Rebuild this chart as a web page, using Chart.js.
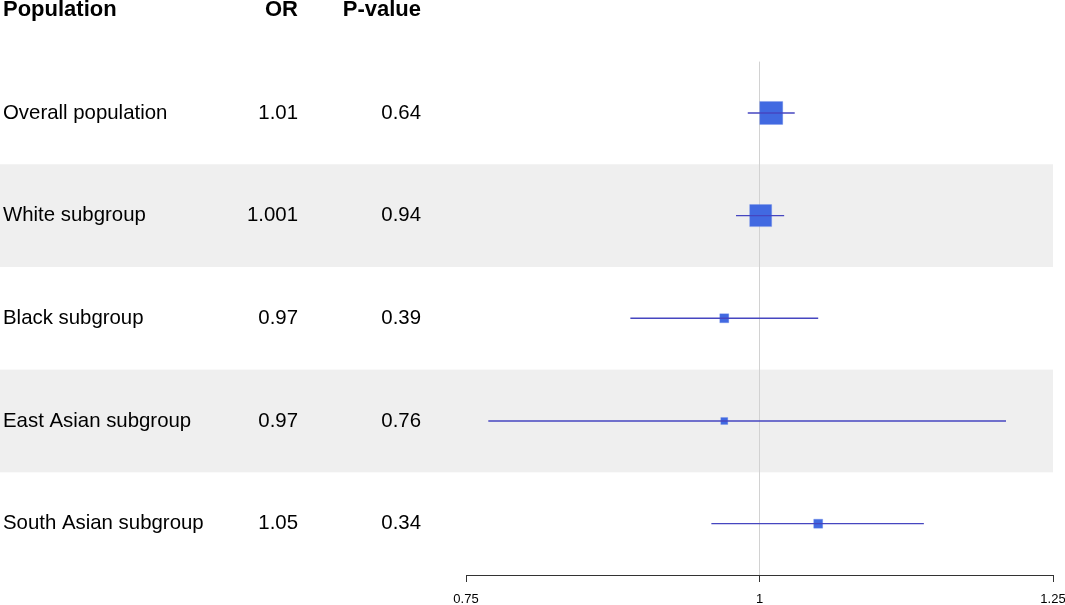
<!DOCTYPE html>
<html>
<head>
<meta charset="utf-8">
<script src="https://cdn.jsdelivr.net/npm/chart.js@4/dist/chart.umd.min.js"></script>
<style>
  html, body { margin: 0; padding: 0; background: #fff; }
  #wrap { width: 1065px; height: 605px; position: relative; }
</style>
</head>
<body>
<div id="wrap"><canvas id="forest"></canvas></div>
<script>
// table columns
const headers = ['Population', 'OR', 'P-value'];
const populations = ['Overall population', 'White subgroup', 'Black subgroup', 'East Asian subgroup', 'South Asian subgroup'];
const orLabels = ['1.01', '1.001', '0.97', '0.97', '1.05'];
const pLabels = ['0.64', '0.94', '0.39', '0.76', '0.34'];

// estimates and confidence intervals
const orValues = [1.01, 1.001, 0.97, 0.97, 1.05];
const ciLower = [0.990, 0.980, 0.890, 0.769, 0.959];
const ciUpper = [1.030, 1.021, 1.050, 1.210, 1.140];
const xTicks = [0.75, 1, 1.25];

// styling
const boxSide = [23, 22, 9, 7, 9];
const FONT = '"Liberation Sans", Arial, Helvetica, sans-serif';
const colX = { pop: 3, or: 298, p: 421 };

const ciSets = orValues.map((v, i) => ({
    type: 'line',
    data: [{ x: ciLower[i], y: i }, { x: ciUpper[i], y: i }],
    borderColor: '#4646c0',
    borderWidth: 1.4,
    pointRadius: 0,
    fill: false
}));

const boxSet = {
    type: 'scatter',
    data: orValues.map((v, i) => ({ x: v, y: i })),
    pointStyle: 'rect',
    pointRadius: boxSide.map(s => s / 2 / Math.SQRT1_2),
    pointHoverRadius: boxSide.map(s => s / 2 / Math.SQRT1_2),
    backgroundColor: '#4169e1',
    borderColor: 'rgba(110, 140, 230, 0.6)',
    borderWidth: 0.5
};

const forestDecor = {
    id: 'forestDecor',
    beforeDatasetsDraw(chart) {
        const { ctx, chartArea, scales } = chart;
        const y = scales.y, x = scales.x;
        ctx.save();
        // shaded rows
        ctx.fillStyle = '#efefef';
        populations.forEach((p, i) => {
            if (i % 2 === 1) {
                const t = y.getPixelForValue(i - 0.5);
                const b = y.getPixelForValue(i + 0.5);
                ctx.fillRect(0, t, chartArea.right, b - t);
            }
        });
        // line of no effect
        const x1 = x.getPixelForValue(1);
        ctx.strokeStyle = '#d2d2d2';
        ctx.lineWidth = 1;
        ctx.beginPath();
        ctx.moveTo(x1, chartArea.top);
        ctx.lineTo(x1, chartArea.bottom);
        ctx.stroke();

        // text columns
        ctx.fillStyle = '#000';
        ctx.textBaseline = 'middle';
        const hy = y.getPixelForValue(-1);
        ctx.font = 'bold 22px ' + FONT;
        ctx.textAlign = 'left';
        ctx.fillText(headers[0], colX.pop, hy);
        ctx.textAlign = 'right';
        ctx.fillText(headers[1], colX.or, hy);
        ctx.fillText(headers[2], colX.p, hy);

        ctx.font = '20.4px ' + FONT;
        populations.forEach((p, i) => {
            const ry = y.getPixelForValue(i);
            ctx.textAlign = 'left';
            ctx.fillText(p, colX.pop, ry);
            ctx.textAlign = 'right';
            ctx.fillText(orLabels[i], colX.or, ry);
            ctx.fillText(pLabels[i], colX.p, ry);
        });
        ctx.restore();
    }
};

new Chart(document.getElementById('forest'), {
    type: 'scatter',
    data: { datasets: [...ciSets, boxSet] },
    options: {
        responsive: true,
        maintainAspectRatio: false,
        animation: false,
        layout: { autoPadding: false, padding: { left: 466, right: 12, top: 61.6, bottom: -12.6 } },
        plugins: { legend: { display: false }, tooltip: { enabled: false } },
        scales: {
            x: {
                type: 'linear',
                min: 0.75,
                max: 1.25,
                afterBuildTicks: axis => { axis.ticks = xTicks.map(v => ({ value: v })); },
                afterFit: axis => { axis.paddingLeft = 0; axis.paddingRight = 0; },
                ticks: {
                    callback: v => String(v),
                    color: '#000',
                    font: { family: FONT, size: 13 },
                    padding: 10,
                    maxRotation: 0,
                    autoSkip: false
                },
                grid: { drawOnChartArea: false, drawTicks: true, tickLength: 7, color: '#333', lineWidth: 1 },
                border: { display: true, color: '#333', width: 1 }
            },
            y: {
                type: 'linear',
                display: false,
                reverse: true,
                min: -0.5,
                max: 4.5
            }
        }
    },
    plugins: [forestDecor]
});
</script>
</body>
</html>
